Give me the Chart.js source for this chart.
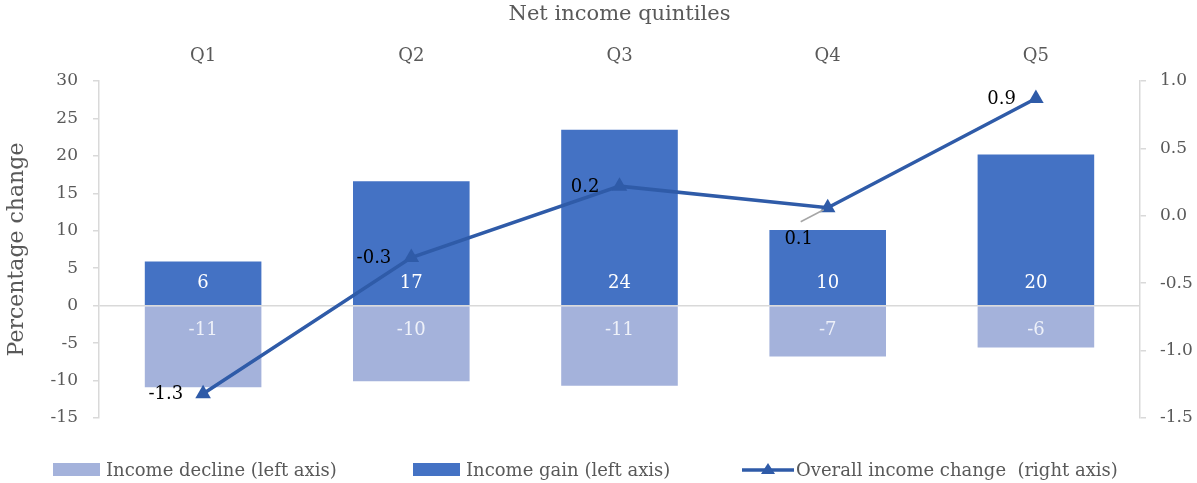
<!DOCTYPE html>
<html>
<head>
<meta charset="utf-8">
<script src="https://cdn.jsdelivr.net/npm/chart.js@4"></script>
<style>
    html, body { margin: 0; padding: 0; background: #fff; }
    .wrap { position: relative; width: 1197px; height: 483px; }
    .legend-item { position: absolute; top: 458px; height: 22px; display: flex; align-items: center;
        font-family: 'DejaVu Serif', serif; font-size: 18px; color: #595959; white-space: pre; }
    .legend-box { display: inline-block; width: 47px; height: 13px; margin-right: 6px; }
</style>
</head>
<body>
<div class="wrap">
    <canvas id="chart" width="1197" height="483"></canvas>
    <div class="legend-item" style="left:53px"><span class="legend-box" style="background:#a4b2db"></span>Income decline (left axis)</div>
    <div class="legend-item" style="left:413px"><span class="legend-box" style="background:#4472c4"></span>Income gain (left axis)</div>
    <div class="legend-item" style="left:742px">
        <svg width="52" height="16" style="margin-right:2px"><line x1="0" y1="9" x2="52" y2="9" stroke="#2f5ba8" stroke-width="3.5"/><polygon points="26,2 33,13 19,13" fill="#2f5ba8"/></svg>Overall income change  (right axis)</div>
</div>
<script>
    // Quintiles and values
    const categories = ['Q1', 'Q2', 'Q3', 'Q4', 'Q5'];
    const incomeDecline = [-10.9, -10.1, -10.7, -6.8, -5.6];
    const incomeGain = [5.9, 16.6, 23.5, 10.1, 20.2];
    const overallChange = [-1.32, -0.31, 0.22, 0.06, 0.87];

    const FONT = "'DejaVu Serif', serif";
    const GREY = '#595959';
    const AXIS = '#d9d9d9';
    const LINE = '#2f5ba8';

    // label placement for the line values (4th point has its label under the marker)
    const lineLabelPlace = ['left', 'left', 'left', 'below', 'left'];

    const valueLabels = {
        id: 'valueLabels',
        afterDatasetsDraw(chart) {
            const c = chart.ctx;
            const zero = chart.scales.y.getPixelForValue(0);
            c.save();
            c.font = '18px ' + FONT;
            c.textBaseline = 'middle';
            c.textAlign = 'center';
            // bar labels sit just inside the bar, next to zero
            chart.getDatasetMeta(0).data.forEach((bar, i) => {
                c.fillStyle = '#eef1f9';
                c.fillText(Math.round(incomeDecline[i]).toString(), bar.x, zero + 25);
            });
            chart.getDatasetMeta(1).data.forEach((bar, i) => {
                c.fillStyle = '#ffffff';
                c.fillText(Math.round(incomeGain[i]).toString(), bar.x, zero - 22);
            });
            // line labels
            chart.getDatasetMeta(2).data.forEach((pt, i) => {
                const txt = overallChange[i].toFixed(1);
                c.fillStyle = '#000';
                if (lineLabelPlace[i] === 'below') {
                    c.strokeStyle = '#a6a6a6';
                    c.lineWidth = 1.5;
                    c.beginPath();
                    c.moveTo(pt.x - 27, pt.y + 14);
                    c.lineTo(pt.x - 4, pt.y + 2);
                    c.stroke();
                    c.textAlign = 'center';
                    c.fillText(txt, pt.x - 29, pt.y + 32);
                } else {
                    c.textAlign = 'right';
                    c.fillText(txt, pt.x - 20, pt.y + 1);
                }
            });
            c.restore();
        }
    };

    const ctx = document.getElementById('chart').getContext('2d');
    new Chart(ctx, {
        type: 'bar',
        data: {
            labels: categories,
            datasets: [{
                label: 'Income decline (left axis)',
                data: incomeDecline,
                backgroundColor: '#a4b2db',
                yAxisID: 'y',
                order: 2
            }, {
                label: 'Income gain (left axis)',
                data: incomeGain,
                backgroundColor: '#4472c4',
                yAxisID: 'y',
                order: 2
            }, {
                type: 'line',
                label: 'Overall income change  (right axis)',
                data: overallChange,
                borderColor: LINE,
                backgroundColor: LINE,
                borderWidth: 3.5,
                pointStyle: 'triangle',
                pointRadius: 9,
                pointBorderWidth: 0,
                yAxisID: 'y1',
                order: 0
            }]
        },
        options: {
            responsive: false,
            animation: false,
            layout: { padding: { left: 0, right: 0, top: 0, bottom: 65 } },
            datasets: { bar: { barPercentage: 0.56, categoryPercentage: 1 } },
            plugins: { legend: { display: false }, tooltip: { enabled: false } },
            scales: {
                x: {
                    position: 'top',
                    stacked: true,
                    grid: { display: false, drawTicks: false },
                    border: { display: false },
                    ticks: { color: GREY, font: { family: FONT, size: 18 }, padding: 14 },
                    title: { display: true, text: 'Net income quintiles', color: GREY,
                        font: { family: FONT, size: 21 }, padding: { top: 2, bottom: 0 } },
                    afterFit(s) { s.height = 81; }
                },
                y: {
                    position: 'left',
                    stacked: true,
                    min: -15, max: 30,
                    ticks: { stepSize: 5, color: GREY, font: { family: FONT, size: 17 }, padding: 15 },
                    grid: {
                        color: (c) => (c.tick && c.tick.value === 0 ? AXIS : 'rgba(0,0,0,0)'),
                        tickColor: AXIS, tickLength: 6, lineWidth: 1.5
                    },
                    border: { display: true, color: AXIS, width: 1.5 },
                    title: { display: true, text: 'Percentage change', color: GREY,
                        font: { family: FONT, size: 22 }, padding: { top: 4, bottom: 0 } },
                    afterFit(s) { s.width = 99; }
                },
                y1: {
                    position: 'right',
                    min: -1.5, max: 1.0,
                    ticks: { stepSize: 0.5, color: GREY, font: { family: FONT, size: 17 }, padding: 14,
                        callback: (v) => v.toFixed(1) },
                    grid: { drawOnChartArea: false, tickColor: AXIS, tickLength: 6, lineWidth: 1.5 },
                    border: { display: true, color: AXIS, width: 1.5 },
                    afterFit(s) { s.width = 57; }
                }
            }
        },
        plugins: [valueLabels]
    });
</script>
</body>
</html>
